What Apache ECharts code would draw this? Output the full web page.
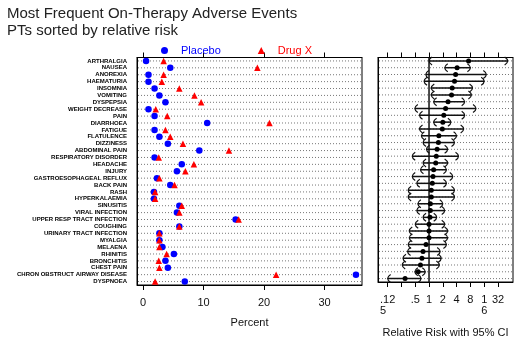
<!DOCTYPE html>
<html>
<head>
<meta charset="utf-8">
<script src="https://cdn.jsdelivr.net/npm/echarts@6/dist/echarts.min.js"></script>
<style>
  html, body { margin: 0; padding: 0; background: #fff; }
  #chart { width: 524px; height: 343px; }
</style>
</head>
<body>
<div id="chart"></div>
<script>
// Adverse event preferred terms, sorted by relative risk (highest first)
const categories = [
  'ARTHRALGIA', 'NAUSEA', 'ANOREXIA', 'HAEMATURIA', 'INSOMNIA', 'VOMITING',
  'DYSPEPSIA', 'WEIGHT DECREASE', 'PAIN', 'DIARRHOEA', 'FATIGUE', 'FLATULENCE',
  'DIZZINESS', 'ABDOMINAL PAIN', 'RESPIRATORY DISORDER', 'HEADACHE', 'INJURY',
  'GASTROESOPHAGEAL REFLUX', 'BACK PAIN', 'RASH', 'HYPERKALAEMIA', 'SINUSITIS',
  'VIRAL INFECTION', 'UPPER RESP TRACT INFECTION', 'COUGHING',
  'URINARY TRACT INFECTION', 'MYALGIA', 'MELAENA', 'RHINITIS', 'BRONCHITIS',
  'CHEST PAIN', 'CHRON OBSTRUCT AIRWAY DISEASE', 'DYSPNOEA'
];

// Incidence (%) per treatment arm
const placeboPct = [0.5, 4.5, 0.9, 0.9, 1.9, 2.7, 3.7, 0.9, 1.9, 10.6, 1.9, 2.7,
  4.1, 9.3, 1.9, 6.4, 5.6, 2.3, 4.5, 1.8, 1.8, 6.0, 5.6, 15.3, 6.0, 2.7, 2.7, 3.2,
  5.1, 3.7, 4.1, 35.2, 6.9];
const drugXPct = [3.4, 18.9, 3.4, 3.1, 6.0, 8.5, 9.6, 2.1, 4.0, 20.9, 3.7, 4.5,
  6.6, 14.2, 2.6, 8.4, 7.0, 2.7, 5.2, 2.0, 2.0, 6.4, 6.0, 15.8, 6.0, 2.7, 2.7, 2.7,
  3.9, 2.6, 2.7, 22.0, 2.0];

// Relative risk (Drug X vs Placebo) with 95% confidence limits
const relRisk = [7.3, 4.1, 3.8, 3.6, 3.2, 3.1, 2.6, 2.3, 2.1, 2.0, 1.95, 1.64, 1.6,
  1.5, 1.44, 1.4, 1.26, 1.22, 1.18, 1.12, 1.12, 1.07, 1.07, 1.05, 1.0, 1.0, 1.0,
  0.86, 0.74, 0.7, 0.65, 0.58, 0.30];
const ciLow = [1.0, 2.2, 0.85, 0.78, 1.12, 1.12, 1.26, 0.49, 0.62, 1.26, 0.62, 0.68,
  0.74, 0.88, 0.43, 0.74, 0.65, 0.43, 0.54, 0.35, 0.35, 0.57, 0.54, 0.74, 0.5, 0.37,
  0.37, 0.35, 0.34, 0.27, 0.26, 0.49, 0.125];
const ciHigh = [52, 8.0, 17.8, 16, 8.9, 8.4, 6.0, 10.6, 6.0, 3.0, 5.7, 4.0, 3.6,
  2.55, 4.4, 2.55, 2.4, 3.3, 2.4, 3.6, 3.6, 2.0, 2.2, 1.47, 2.2, 2.55, 2.55, 2.4,
  1.75, 1.85, 1.68, 0.83, 0.67];

// Axis ticks
const pctTicks = [0, 10, 20, 30];
const rrTicks = [0.125, 0.25, 0.5, 1, 2, 4, 8, 16, 32];
const rrLabelTicks = [0.125, 0.5, 1, 2, 4, 8, 16, 32];
const rrReference = [1];

const FONT = '"Liberation Sans", Arial, sans-serif';

const chart = echarts.init(document.getElementById('chart'), null, { renderer: 'canvas' });

// Dotted guide line across the full panel width at each row
function rowLine(params, api) {
  const cs = params.coordSys;
  const y = api.coord([api.value(0), api.value(1)])[1];
  return {
    type: 'line',
    shape: { x1: cs.x + 1, y1: y, x2: cs.x + cs.width - 1, y2: y },
    style: { stroke: '#777', lineWidth: 1, lineDash: [1, 2] },
    silent: true
  };
}

// Solid vertical reference line (no effect) spanning the panel height
function refLine(params, api) {
  const cs = params.coordSys;
  const x = api.coord([api.value(0), 0])[0];
  return {
    type: 'line',
    shape: { x1: x, y1: cs.y, x2: x, y2: cs.y + cs.height },
    style: { stroke: '#111', lineWidth: 1.5 },
    silent: true
  };
}

// Confidence interval: horizontal bar with curved end brackets
function ciBar(params, api) {
  const row = api.value(2);
  const p1 = api.coord([api.value(0), row]);
  const p2 = api.coord([api.value(1), row]);
  const y = p1[1], h = 4, d = 3;
  const style = { stroke: '#111', lineWidth: 1.2, fill: null };
  return {
    type: 'group',
    children: [
      { type: 'line', shape: { x1: p1[0], y1: y, x2: p2[0], y2: y }, style: { stroke: '#111', lineWidth: 1.5 } },
      { type: 'bezierCurve', shape: { x1: p1[0] + d, y1: y - h, cpx1: p1[0] - d, cpy1: y, x2: p1[0] + d, y2: y + h }, style },
      { type: 'bezierCurve', shape: { x1: p2[0] - d, y1: y - h, cpx1: p2[0] + d, cpy1: y, x2: p2[0] - d, y2: y + h }, style }
    ]
  };
}

const rowIdx = categories.map((c, i) => i);

function rrLabel(v) {
  const k = Math.round(Math.log2(v));
  const map = { '-3': '{l|.12}\n{l|5}', '-1': '.5', '0': '1', '1': '2', '2': '4', '3': '8', '4': '1\n6', '5': '32' };
  return map[String(k)] || '';
}

function ticks(values) {
  return { show: true, customValues: values, inside: false, length: 5, lineStyle: { color: '#000', width: 1 } };
}
const axisLineStyle = { show: true, onZero: false, lineStyle: { color: '#000', width: 1 } };

const option = {
  animation: false,
  backgroundColor: '#fff',
  title: {
    text: 'Most Frequent On-Therapy Adverse Events\nPTs sorted by relative risk',
    left: 2, top: 0,
    textStyle: { fontFamily: FONT, fontSize: 15, fontWeight: 'normal', color: '#222', lineHeight: 17 }
  },
  legend: {
    left: 156, top: 40,
    itemWidth: 7, itemHeight: 7, itemGap: 37,
    data: [
      { name: 'Placebo', textStyle: { color: '#0000ff' } },
      { name: 'Drug X', textStyle: { color: '#ff0000' } }
    ],
    textStyle: { fontFamily: FONT, fontSize: 11, padding: [0, 0, 0, 8] }
  },
  grid: [
    { left: 137, right: 162, top: 57.5, bottom: 58, show: true, borderColor: '#000', borderWidth: 1 },
    { left: 378, right: 11, top: 57.5, bottom: 58, show: true, borderColor: '#000', borderWidth: 1 }
  ],
  xAxis: [
    {
      gridIndex: 0, type: 'value', min: -1, max: 36.2, position: 'bottom',
      name: 'Percent', nameLocation: 'middle', nameGap: 32,
      nameTextStyle: { fontFamily: FONT, fontSize: 11, color: '#111' },
      axisLine: axisLineStyle,
      axisTick: ticks(pctTicks),
      axisLabel: { show: true, customValues: pctTicks, fontFamily: FONT, fontSize: 11, color: '#111', margin: 12 },
      splitLine: { show: false }
    },
    {
      gridIndex: 0, type: 'value', min: -1, max: 36.2, position: 'top',
      axisLine: axisLineStyle,
      axisTick: ticks(pctTicks),
      axisLabel: { show: true, customValues: pctTicks, formatter: () => '' },
      splitLine: { show: false }
    },
    {
      gridIndex: 1, type: 'log', logBase: 2, min: 0.077, max: 68, position: 'bottom',
      name: 'Relative Risk with 95% CI', nameLocation: 'middle', nameGap: 45,
      nameTextStyle: { fontFamily: FONT, fontSize: 11, color: '#111' },
      axisLine: axisLineStyle,
      axisTick: ticks(rrTicks),
      axisLabel: {
        show: true, customValues: rrLabelTicks, formatter: rrLabel,
        fontFamily: FONT, fontSize: 11, color: '#111', margin: 12, lineHeight: 11,
        rich: { l: { align: 'left', fontFamily: FONT, fontSize: 11, color: '#111', lineHeight: 11 } }
      },
      splitLine: { show: false }
    },
    {
      gridIndex: 1, type: 'log', logBase: 2, min: 0.077, max: 68, position: 'top',
      axisLine: axisLineStyle,
      axisTick: ticks(rrTicks),
      axisLabel: { show: true, customValues: rrTicks, formatter: () => '' },
      splitLine: { show: false }
    }
  ],
  yAxis: [
    {
      gridIndex: 0, type: 'category', data: categories, inverse: true,
      axisLine: axisLineStyle,
      axisTick: { show: false },
      axisLabel: { interval: 0, fontFamily: FONT, fontSize: 6, fontWeight: 'bold', color: '#000', margin: 10 },
      splitLine: { show: false }
    },
    {
      gridIndex: 1, type: 'category', data: categories, inverse: true,
      axisLine: axisLineStyle,
      axisTick: { show: false },
      axisLabel: { show: false },
      splitLine: { show: false }
    }
  ],
  series: [
    {
      type: 'custom', name: 'rowsLeft', xAxisIndex: 0, yAxisIndex: 0,
      renderItem: rowLine, data: rowIdx.map(i => [0, i]), encode: { x: 0, y: 1 }, z: 1, silent: true
    },
    {
      type: 'custom', name: 'rowsRight', xAxisIndex: 2, yAxisIndex: 1,
      renderItem: rowLine, data: rowIdx.map(i => [1, i]), encode: { x: 0, y: 1 }, z: 1, silent: true
    },
    {
      type: 'scatter', name: 'Placebo', xAxisIndex: 0, yAxisIndex: 0,
      symbol: 'circle', symbolSize: 6.5,
      itemStyle: { color: '#0000ff', opacity: 1 },
      data: placeboPct.map((v, i) => [v, i]), z: 3
    },
    {
      type: 'scatter', name: 'Drug X', xAxisIndex: 0, yAxisIndex: 0,
      symbol: 'triangle', symbolSize: 6.5,
      itemStyle: { color: '#ff0000', opacity: 1 },
      data: drugXPct.map((v, i) => [v, i]), z: 4
    },
    {
      type: 'custom', name: 'ci', xAxisIndex: 2, yAxisIndex: 1,
      renderItem: ciBar, data: rowIdx.map(i => [ciLow[i], ciHigh[i], i]),
      encode: { x: [0, 1], y: 2 }, z: 3
    },
    {
      type: 'custom', name: 'noEffect', xAxisIndex: 2, yAxisIndex: 1,
      renderItem: refLine, data: rrReference.map(v => [v, 0]), encode: { x: 0, y: 1 }, z: 6, silent: true
    },
    {
      type: 'scatter', name: 'rr', xAxisIndex: 2, yAxisIndex: 1,
      symbol: 'circle', symbolSize: 5,
      itemStyle: { color: '#000', opacity: 1 },
      data: relRisk.map((v, i) => [v, i]), z: 7
    }
  ]
};

chart.setOption(option);
</script>
</body>
</html>
